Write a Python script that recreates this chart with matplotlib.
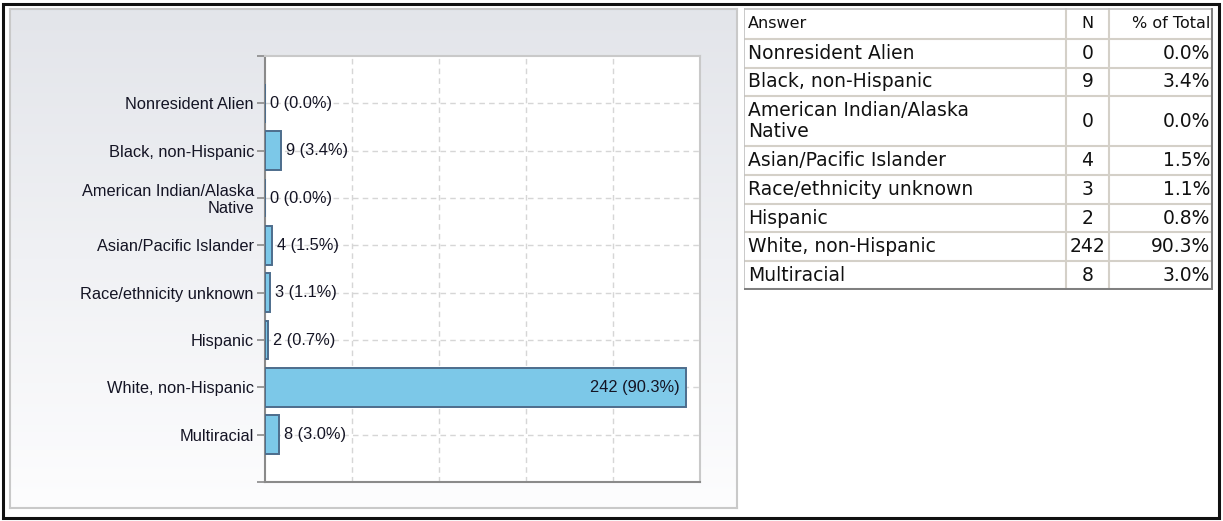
import numpy as np
import matplotlib.pyplot as plt
from matplotlib.patches import Rectangle

# data
answers = ["Nonresident Alien", "Black, non-Hispanic", "American Indian/Alaska\nNative",
           "Asian/Pacific Islander", "Race/ethnicity unknown", "Hispanic",
           "White, non-Hispanic", "Multiracial"]
counts = [0, 9, 0, 4, 3, 2, 242, 8]
chart_pct = ["0.0%", "3.4%", "0.0%", "1.5%", "1.1%", "0.7%", "90.3%", "3.0%"]
table_pct = ["0.0%", "3.4%", "0.0%", "1.5%", "1.1%", "0.8%", "90.3%", "3.0%"]
table_header = ["Answer", "N", "% of Total"]

W, H = 1223, 521
fig = plt.figure(figsize=(W / 100, H / 100), dpi=100)
fig.patch.set_facecolor("white")


def px_axes(x0, y0, x1, y1, **kw):
    # axes from pixel box (top-left origin)
    return fig.add_axes([x0 / W, 1 - y1 / H, (x1 - x0) / W, (y1 - y0) / H], **kw)


# outer black frame
fig.patches.append(Rectangle((2.5 / W, 3 / H), (1219 - 2.5) / W, (517 - 3) / H,
                             transform=fig.transFigure, fill=False,
                             edgecolor="#111111", linewidth=2.2))

# gradient panel behind the chart
bg = px_axes(10, 9, 737, 508)
grad = np.linspace(0, 1, 256)[:, None, None]
top = np.array([0.890, 0.898, 0.918])
bot = np.array([0.992, 0.992, 0.996])
img = top + (bot - top) * grad
bg.imshow(img, aspect="auto", extent=[0, 1, 0, 1])
bg.set_xticks([])
bg.set_yticks([])
for s in bg.spines.values():
    s.set_color("#c9c9c9")
    s.set_linewidth(1.5)

# bar chart
cfs = 11.8
ax = px_axes(265, 56, 700, 482)
ax.set_facecolor("white")
ypos = np.arange(len(answers))
ax.barh(ypos, counts, height=0.82, color="#7cc8e8", edgecolor="#4d6d8c",
        linewidth=1.4, zorder=3)
ax.set_xlim(0, 250)
ax.set_ylim(len(answers), -1)
ax.set_xticks([50, 100, 150, 200])
ax.tick_params(axis="x", length=0, labelbottom=False)
ax.set_yticks(ypos)
ax.set_yticklabels(answers, family="Liberation Sans", fontsize=cfs,
                   color="#141424", linespacing=1.1)
ax.set_yticks([-1, len(answers)], minor=True)
ax.tick_params(axis="y", which="both", length=6, color="#8a8a8a", width=1.2, pad=2)
ax.grid(True, color="#d6d6d6", linestyle=(0, (4, 3)), linewidth=1, zorder=0)
for side, col in [("left", "#8a8a8a"), ("bottom", "#8a8a8a"),
                  ("top", "#c9c9c9"), ("right", "#c9c9c9")]:
    ax.spines[side].set_color(col)
    ax.spines[side].set_linewidth(1.5)

for y, c, p in zip(ypos, counts, chart_pct):
    lab = f"{c} ({p})"
    if c > 100:
        ax.annotate(lab, (c, y), xytext=(-6, 0), textcoords="offset pixels",
                    ha="right", va="center", fontsize=cfs, family="Liberation Sans",
                    color="#141424", zorder=4)
    else:
        ax.annotate(lab, (c, y), xytext=(5, 0), textcoords="offset pixels",
                    ha="left", va="center", fontsize=cfs, family="Liberation Sans",
                    color="#141424", zorder=4)

# table
tx0, ty0, tx1, ty1 = 744, 8, 1213, 290
tab = px_axes(tx0, ty0, tx1, ty1)
tab.set_xlim(0, tx1 - tx0)
tab.set_ylim(ty1 - ty0, 0)
tab.axis("off")
col_edges = [0, 322, 365, tx1 - tx0]
row_h = [31] + [50 if "\n" in a else 29 for a in answers]
row_edges = np.concatenate([[0], np.cumsum(row_h)])
row_edges = row_edges * (ty1 - ty0) / row_edges[-1]

gc = "#d4d0c8"
for yy in row_edges[1:-1]:
    tab.plot([0, col_edges[-1]], [yy, yy], color=gc, lw=1.5, solid_capstyle="butt")
for xx in col_edges[1:-1]:
    tab.plot([xx, xx], [0, row_edges[-1]], color=gc, lw=1.5, solid_capstyle="butt")
tab.plot([0.5, 0.5], [0, row_edges[-1]], color="#c0c0c0", lw=1.2)
tab.plot([0, col_edges[-1]], [0.5, 0.5], color="#c0c0c0", lw=1.2)
tab.plot([col_edges[-1] - 1, col_edges[-1] - 1], [0, row_edges[-1]], color="#808080", lw=2.2)
tab.plot([0, col_edges[-1]], [row_edges[-1] - 1, row_edges[-1] - 1], color="#808080", lw=2.2)

tfont = dict(family="DejaVu Sans", color="#111111", va="center")
hfs, bfs = 11.5, 13.5
yc = (row_edges[0] + row_edges[1]) / 2
tab.text(col_edges[0] + 4, yc, table_header[0], ha="left", fontsize=hfs, **tfont)
tab.text((col_edges[1] + col_edges[2]) / 2, yc, table_header[1], ha="center", fontsize=hfs, **tfont)
tab.text(col_edges[3] - 3, yc, table_header[2], ha="right", fontsize=hfs, **tfont)
for i, (a, n, p) in enumerate(zip(answers, counts, table_pct)):
    yc = (row_edges[i + 1] + row_edges[i + 2]) / 2
    tab.text(col_edges[0] + 4, yc, a, ha="left", fontsize=bfs, linespacing=1.15, **tfont)
    tab.text((col_edges[1] + col_edges[2]) / 2, yc, str(n), ha="center", fontsize=bfs, **tfont)
    tab.text(col_edges[3] - 3, yc, p, ha="right", fontsize=bfs, **tfont)

fig.savefig("out.png", dpi=100)
